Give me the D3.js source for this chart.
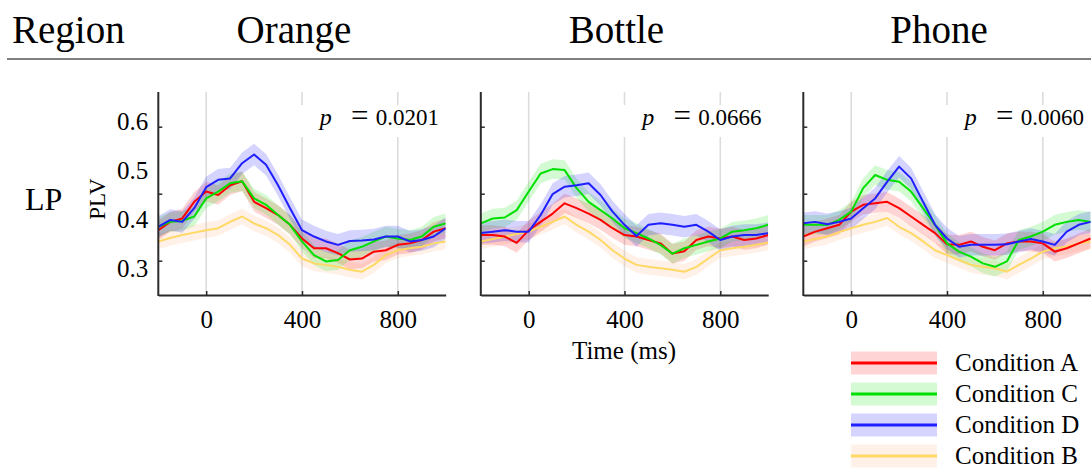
<!DOCTYPE html>
<html><head><meta charset="utf-8">
<script src="https://cdn.jsdelivr.net/npm/d3@7"></script>
<style>
html,body{margin:0;padding:0;background:#fff;}
svg{display:block;font-family:"Liberation Serif","Times New Roman",serif;}
svg text{font-family:"Liberation Serif","Times New Roman",serif;}
</style></head>
<body><svg id="chart" width="1091" height="470"></svg>
<script>
// ---------- DATA ----------
const regionLabel = "Region";
const rowLabel = "LP";
const stimuli = ["Orange", "Bottle", "Phone"];
const pValues = ["0.0201", "0.0666", "0.0060"];
const conditions = ["Condition A", "Condition C", "Condition D", "Condition B"];
const xTicks = [0, 400, 800];
const yTickLabels = [0.3, 0.4, 0.5, 0.6];
const yTickMarks = [0.4, 0.5, 0.6];
const times = [-200,-150,-100,-50,0,50,100,150,200,250,300,350,400,450,500,550,600,650,700,750,800,850,900,950,1000];

// Orange
const orangeA = [.378,.395,.402,.436,.457,.450,.470,.478,.436,.423,.409,.389,.361,.341,.341,.331,.318,.320,.334,.337,.348,.351,.358,.375,.382];
const orangeC = [.385,.395,.397,.406,.443,.457,.474,.478,.443,.430,.409,.389,.355,.327,.314,.317,.337,.344,.355,.365,.361,.358,.365,.385,.392];
const orangeD = [.385,.399,.395,.423,.466,.481,.484,.515,.533,.512,.470,.423,.378,.365,.355,.348,.356,.357,.359,.365,.365,.355,.358,.365,.382];
const orangeB = [.355,.362,.368,.373,.378,.382,.395,.406,.392,.382,.368,.348,.320,.310,.307,.303,.297,.293,.307,.327,.337,.341,.344,.351,.355];
// Bottle
const bottleA = [.368,.368,.365,.352,.378,.395,.412,.433,.423,.412,.399,.382,.368,.365,.358,.351,.330,.335,.358,.365,.361,.365,.358,.361,.368];
const bottleC = [.392,.402,.404,.419,.457,.494,.503,.501,.464,.436,.419,.402,.382,.372,.361,.348,.330,.341,.348,.355,.361,.375,.378,.382,.389];
const bottleD = [.372,.375,.378,.375,.375,.409,.452,.467,.470,.474,.450,.416,.389,.366,.389,.392,.389,.385,.389,.375,.358,.365,.368,.368,.372];
const bottleB = [.355,.360,.365,.370,.375,.385,.395,.406,.389,.375,.358,.337,.320,.307,.303,.300,.297,.293,.303,.320,.337,.341,.344,.348,.353];
// Phone
const phoneA = [.365,.375,.382,.389,.416,.430,.433,.436,.423,.406,.389,.372,.349,.348,.355,.344,.337,.351,.355,.355,.351,.334,.341,.351,.361];
const phoneC = [.389,.389,.389,.399,.416,.464,.491,.481,.477,.457,.423,.389,.351,.334,.324,.310,.303,.314,.358,.365,.375,.389,.395,.399,.395];
const phoneD = [.392,.395,.390,.395,.402,.423,.443,.477,.508,.484,.436,.389,.361,.344,.348,.348,.348,.349,.355,.360,.355,.348,.375,.389,.395];
const phoneB = [.355,.360,.365,.374,.382,.389,.395,.403,.385,.372,.355,.337,.327,.317,.307,.303,.300,.293,.307,.320,.334,.341,.344,.351,.355];

const bandHalfWidth = [0.020, 0.020, 0.022, 0.016]; // A, C, D, B

const panelSeries = [
  [orangeA, orangeC, orangeD, orangeB],
  [bottleA, bottleC, bottleD, bottleB],
  [phoneA, phoneC, phoneD, phoneB]
];

// ---------- STYLE ----------
const FONT = "Liberation Serif, Times New Roman, serif";
const lineColors = ["#ff0000", "#00e000", "#1f1fff", "#ffd966"];
const bandColors = ["#ff0000", "#00e000", "#0000ff", "#ff9f55"];
const bandOpacity = [0.17, 0.17, 0.17, 0.14];
const drawOrder = [3, 0, 1, 2];

const svg = d3.select("#chart");
svg.append("rect").attr("width",1091).attr("height",470).attr("fill","#fff");

// header
svg.append("text").attr("x",12).attr("y",43).attr("font-size",39).attr("fill","#000").text(regionLabel);
svg.append("line").attr("x1",7).attr("x2",1091).attr("y1",59).attr("y2",59)
  .attr("stroke","#555").attr("stroke-width",1.5);
svg.append("text").attr("x",25).attr("y",210).attr("font-size",32).attr("fill","#000").text(rowLabel);

const panelTop = 92, panelBottom = 295, panelWidth = 287.4;
const panelLefts = [158.3, 480.8, 803.3];

const y = d3.scaleLinear().domain([0.3, 0.6]).range([268.3, 121.7]);
const yMarks = d3.scaleLinear().domain([0.4, 0.6]).range([260.7, 126.7]);

stimuli.forEach((stim, pi) => {
  const left = panelLefts[pi], right = left + panelWidth;
  const x = d3.scaleLinear().domain([-200, 1000]).range([left, right]);
  const g = svg.append("g");

  // header title
  svg.append("text").attr("x", (left+right)/2 - 8).attr("y", 43).attr("text-anchor","middle")
    .attr("font-size",39).attr("fill","#000").text(stim);

  // gridlines
  g.selectAll("line.grid").data(xTicks).join("line").attr("class","grid")
    .attr("x1", d => x(d)).attr("x2", d => x(d))
    .attr("y1", panelTop).attr("y2", panelBottom)
    .attr("stroke","#dcdcdc").attr("stroke-width",1.6);

  // p-value box + text
  const x0 = right - 126;
  g.append("rect").attr("x", x0 - 20).attr("y",105).attr("width", right - x0 + 20).attr("height",32).attr("fill","#fff");
  const pt = g.append("g").attr("fill","#000");
  pt.append("text").attr("x", x0).attr("y",125).attr("font-size",24).attr("font-style","italic").text("p");
  pt.append("text").attr("x", x0 + 40).attr("y",126).attr("text-anchor","middle").attr("font-size",31).text("=");
  pt.append("text").attr("x", x0 + 56).attr("y",125).attr("font-size",23).text(pValues[pi]);

  const series = panelSeries[pi];
  const clipId = "clip" + pi;
  svg.append("clipPath").attr("id", clipId).append("rect")
    .attr("x", left).attr("y", panelTop).attr("width", panelWidth).attr("height", panelBottom - panelTop);
  const plot = g.append("g").attr("clip-path", `url(#${clipId})`);

  drawOrder.forEach(ci => {
    const vals = series[ci];
    const hw = bandHalfWidth[ci];
    const area = d3.area().x((d,i) => x(times[i])).y0(d => y(d - hw)).y1(d => y(d + hw));
    plot.append("path").datum(vals).attr("d", area)
      .attr("fill", bandColors[ci]).attr("fill-opacity", bandOpacity[ci]).attr("stroke","none");
  });
  drawOrder.forEach(ci => {
    const vals = series[ci];
    const line = d3.line().x((d,i) => x(times[i])).y(d => y(d));
    plot.append("path").datum(vals).attr("d", line)
      .attr("fill","none").attr("stroke", lineColors[ci]).attr("stroke-width", 2)
      .attr("stroke-linejoin","round");
  });

  // x axis
  const xa = g.append("g").attr("transform", `translate(0,${panelBottom})`)
    .call(d3.axisBottom(x).tickValues(xTicks).tickSize(-4).tickSizeOuter(0).tickPadding(15).tickFormat(d3.format("d")));
  xa.attr("font-family", FONT);
  xa.select(".domain").attr("stroke","#2b2b2b").attr("stroke-width",2);
  xa.selectAll(".tick line").attr("stroke","#2b2b2b").attr("stroke-width",1.5);
  xa.selectAll("text").attr("font-size",25).attr("fill","#000").attr("font-family",FONT);

  // y axis line
  g.append("line").attr("x1", left).attr("x2", left).attr("y1", panelTop).attr("y2", panelBottom + 1)
    .attr("stroke","#2b2b2b").attr("stroke-width",2);
  // y tick marks
  const ym = g.append("g").attr("transform", `translate(${left},0)`)
    .call(d3.axisLeft(yMarks).tickValues(yTickMarks).tickSize(-4).tickFormat(""));
  ym.select(".domain").remove();
  ym.selectAll(".tick line").attr("stroke","#2b2b2b").attr("stroke-width",1.5);

  if (pi === 0) {
    const yl = g.append("g").attr("transform", `translate(${left},0)`)
      .call(d3.axisLeft(y).tickValues(yTickLabels).tickSize(0).tickPadding(10).tickFormat(d3.format(".1f")));
    yl.attr("font-family", FONT);
    yl.select(".domain").remove();
    yl.selectAll("text").attr("font-size",25).attr("fill","#000").attr("font-family",FONT);
    svg.append("text").attr("transform","translate(105,199) rotate(-90)").attr("text-anchor","middle")
      .attr("font-size",23).attr("fill","#000").text("PLV");
  }
  if (pi === 1) {
    svg.append("text").attr("x", 624).attr("y", 359).attr("text-anchor","middle")
      .attr("font-size",25).attr("fill","#000").text("Time (ms)");
  }
});

// legend
const legendRows = [0, 1, 2, 3];
const lg = svg.append("g");
legendRows.forEach((ci, r) => {
  const cy = 363 + r * 31;
  lg.append("rect").attr("x",851).attr("y",cy - 11.5).attr("width",86).attr("height",23)
    .attr("fill", bandColors[ci]).attr("fill-opacity", bandOpacity[ci]);
  lg.append("line").attr("x1",851).attr("x2",937).attr("y1",cy).attr("y2",cy)
    .attr("stroke", lineColors[ci]).attr("stroke-width",3);
  lg.append("text").attr("x",955).attr("y",cy + 8).attr("font-size",25).attr("fill","#000").text(conditions[ci]);
});
</script></body></html>
